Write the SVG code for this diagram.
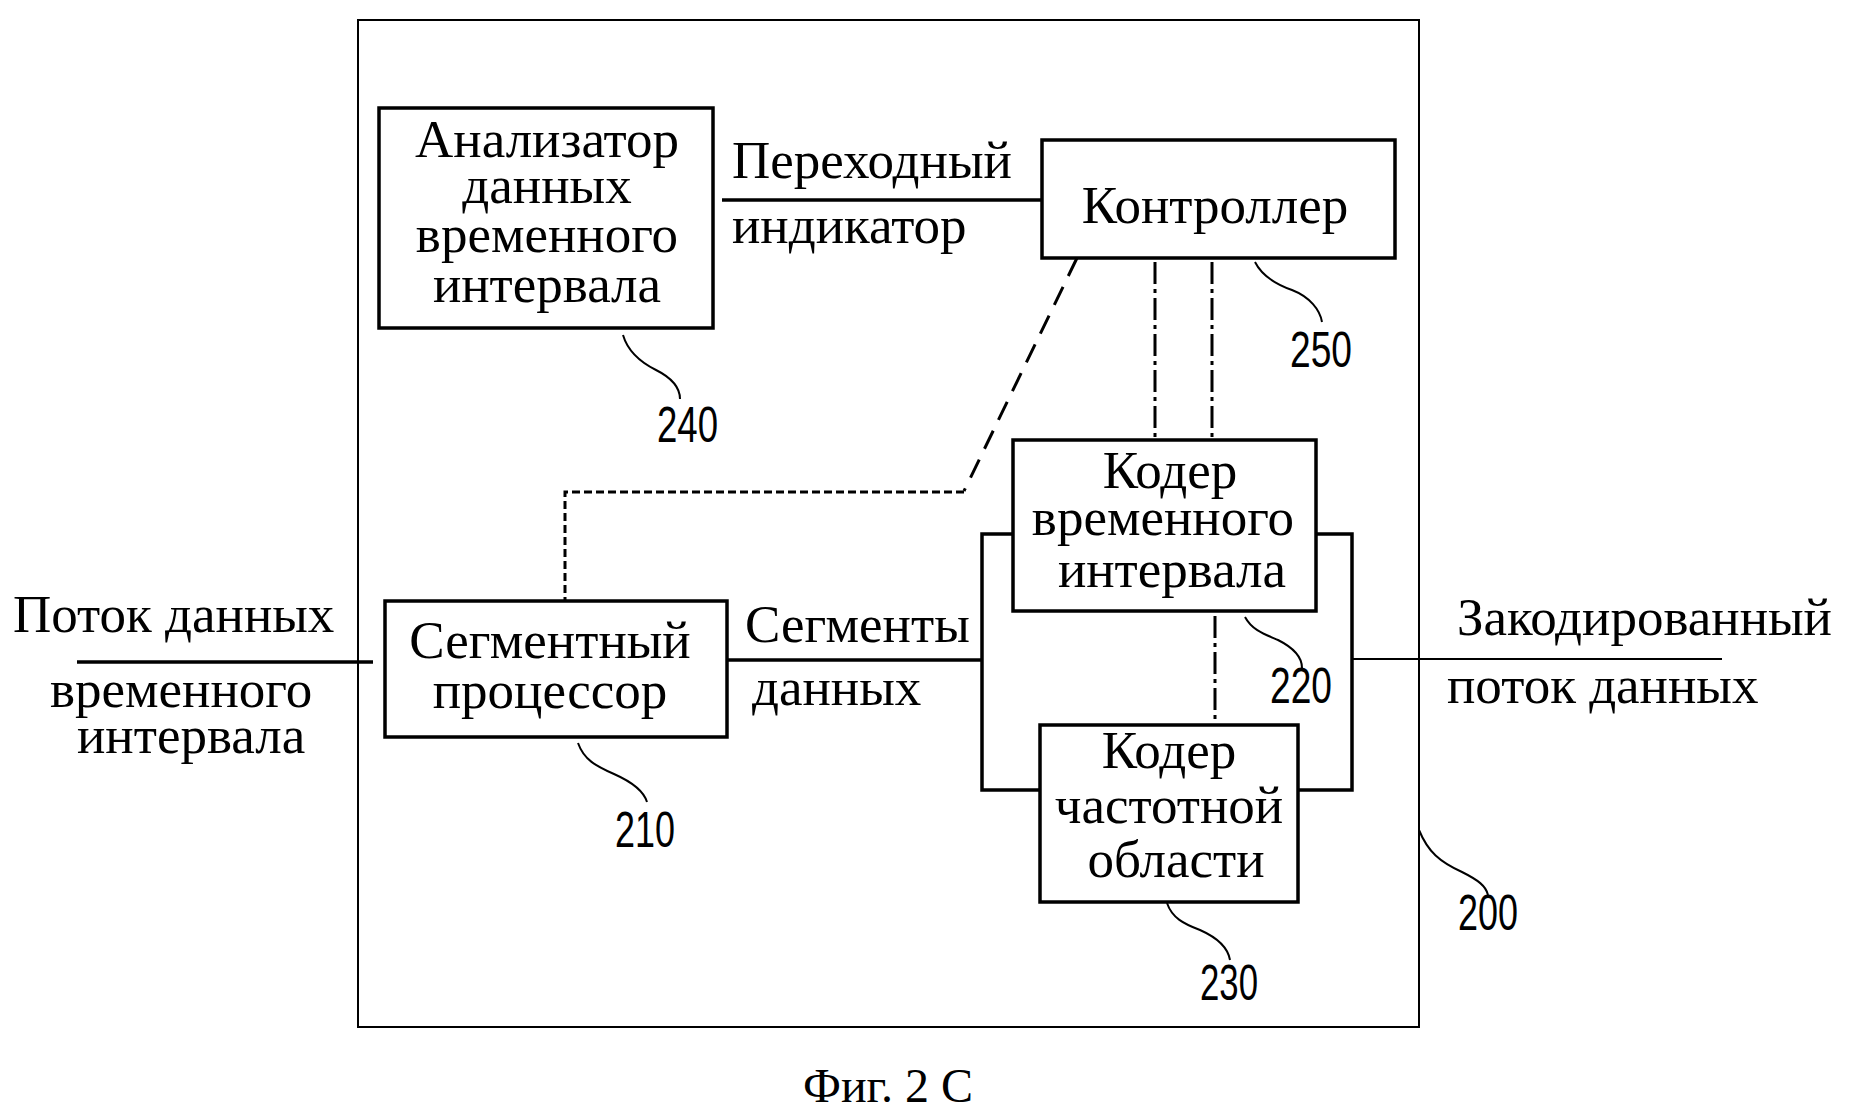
<svg xmlns="http://www.w3.org/2000/svg" width="1857" height="1118" viewBox="0 0 1857 1118">
<style>
.box{fill:none;stroke:#000;stroke-width:3.5}
.t{font-family:"Liberation Serif","Times New Roman",serif;font-size:53px;fill:#000}
.c{text-anchor:middle}
.n{font-family:"Liberation Sans",Arial,sans-serif;font-size:50px;fill:#000}
.ln{fill:none;stroke:#000;stroke-width:3.5}
.thin{fill:none;stroke:#000;stroke-width:2}
.dash{fill:none;stroke:#000;stroke-width:3;stroke-dasharray:20 12}
.sdash{fill:none;stroke:#000;stroke-width:3;stroke-dasharray:8 4}
.dd{fill:none;stroke:#000;stroke-width:3;stroke-dasharray:22 5 4 5}
.lead{fill:none;stroke:#000;stroke-width:2}
</style>
<rect width="1857" height="1118" fill="#fff"/>
<g id="frame200">
<rect x="358" y="20" width="1061" height="1007" class="thin"/>
<path class="lead" d="M1419,830 C1428,852 1440,862 1462,872 C1478,880 1486,886 1488,895"/>
<text class="n" x="1458" y="930" textLength="60" lengthAdjust="spacingAndGlyphs">200</text>
</g>
<g id="connectors">
<path class="ln" d="M77,662 H373"/>
<path class="ln" d="M722,200 H1042"/>
<path class="ln" d="M727,660 H982"/>
<path class="ln" d="M1013,534 H982 V790 H1040"/>
<path class="ln" d="M1316,534 H1352 V790 H1298"/>
<path class="thin" d="M1352,659 H1722"/>
<path class="dash" d="M1077,258 L964,491"/>
<path class="sdash" d="M964,492 H565 V600"/>
<path class="dd" d="M1155,262 V438"/>
<path class="dd" d="M1212,262 V438"/>
<path class="dd" d="M1215,616 V723"/>
</g>
<g id="n240">
<rect x="379" y="108" width="334" height="220" class="box"/>
<text class="t c" x="547" y="157">Анализатор</text>
<text class="t c" x="547" y="203">данных</text>
<text class="t c" x="547" y="252">временного</text>
<text class="t c" x="547" y="302">интервала</text>
<path class="lead" d="M623,335 C628,352 640,362 656,370 C672,378 680,388 680,399"/>
<text class="n" x="657" y="442" textLength="61" lengthAdjust="spacingAndGlyphs">240</text>
</g>
<g id="n250">
<rect x="1042" y="140" width="353" height="118" class="box"/>
<text class="t c" x="1215" y="223">Контроллер</text>
<path class="lead" d="M1255,262 C1262,276 1275,284 1292,290 C1310,297 1320,310 1322,322"/>
<text class="n" x="1290" y="367" textLength="62" lengthAdjust="spacingAndGlyphs">250</text>
</g>
<g id="n210">
<rect x="385" y="601" width="342" height="136" class="box"/>
<text class="t c" x="550" y="658">Сегментный</text>
<text class="t c" x="550" y="708">процессор</text>
<path class="lead" d="M578,743 C584,760 596,766 614,774 C632,782 644,792 647,802"/>
<text class="n" x="615" y="847" textLength="60" lengthAdjust="spacingAndGlyphs">210</text>
</g>
<g id="n220">
<rect x="1013" y="440" width="303" height="171" class="box"/>
<text class="t c" x="1170" y="488">Кодер</text>
<text class="t c" x="1163" y="535">временного</text>
<text class="t c" x="1172" y="587">интервала</text>
<path class="lead" d="M1245,617 C1252,630 1264,634 1278,640 C1294,648 1302,658 1302,668"/>
<text class="n" x="1270" y="703" textLength="62" lengthAdjust="spacingAndGlyphs">220</text>
</g>
<g id="n230">
<rect x="1040" y="725" width="258" height="177" class="box"/>
<text class="t c" x="1169" y="768">Кодер</text>
<text class="t c" x="1169" y="823">частотной</text>
<text class="t c" x="1176" y="877">области</text>
<path class="lead" d="M1167,903 C1172,918 1184,924 1200,930 C1218,938 1228,948 1230,960"/>
<text class="n" x="1200" y="1000" textLength="58" lengthAdjust="spacingAndGlyphs">230</text>
</g>
<g id="labels">
<text class="t" x="13" y="632">Поток данных</text>
<text class="t" x="50" y="707">временного</text>
<text class="t" x="77" y="753">интервала</text>
<text class="t" x="732" y="178">Переходный</text>
<text class="t" x="732" y="243">индикатор</text>
<text class="t" x="745" y="642">Сегменты</text>
<text class="t" x="752" y="705">данных</text>
<text class="t" x="1457" y="635">Закодированный</text>
<text class="t" x="1447" y="703">поток данных</text>
<text class="t" x="803" y="1102" style="font-size:48px">Фиг. 2 С</text>
</g>
</svg>
